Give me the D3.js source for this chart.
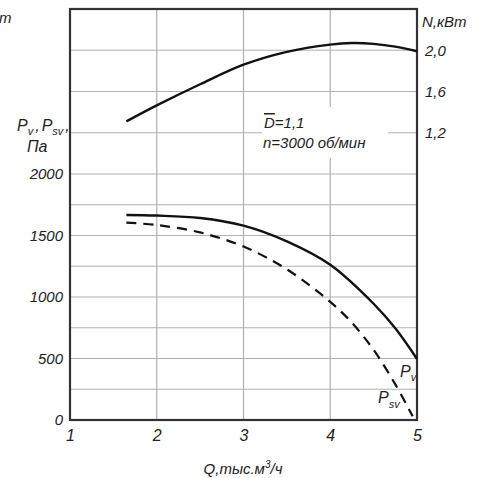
<!DOCTYPE html>
<html>
<head>
<meta charset="utf-8">
<script src="https://cdn.jsdelivr.net/npm/d3@7"></script>
<style>
  body { margin: 0; background: #fff; }
  svg text { font-family: "Liberation Sans", Arial, sans-serif; font-style: italic; fill: #222; }
</style>
</head>
<body>
<svg id="chart" width="491" height="478"></svg>
<script>
// Q, тыс. м3/ч
const qN = [1.65, 2.0, 2.5, 3.0, 3.5, 4.0, 4.25, 4.5, 4.75, 5.0]
const nValues = [1.31, 1.465, 1.67, 1.86, 1.985, 2.055, 2.07, 2.062, 2.035, 1.99]

const qPv = [1.65, 2.0, 2.5, 3.0, 3.5, 4.0, 4.5, 4.75, 5.0]
const pvValues = [1667, 1662, 1642, 1580, 1452, 1262, 945, 745, 496]

const qPsv = [1.65, 2.0, 2.5, 3.0, 3.5, 4.0, 4.25, 4.5, 4.75, 4.95]
const psvValues = [1605, 1585, 1525, 1410, 1225, 960, 790, 570, 290, 30]

const qTicks = [1, 2, 3, 4, 5]
const pTicks = [0, 500, 1000, 1500, 2000]
const pGrid = [250, 500, 750, 1000, 1250, 1500, 1750, 2000]
const nTicks = [1.2, 1.6, 2.0]

const svg = d3.select("#chart")
const mLeft = 70, mRight = 417, mTop = 9, mBottom = 420

const x = d3.scaleLinear().domain([1, 5]).range([mLeft, mRight])
const yP = d3.scaleLinear().domain([0, 2000]).range([mBottom, 174])
const yN = d3.scaleLinear().domain([0.8, 2.4]).range([174, mTop])

const grid = svg.append("g").attr("stroke", "#b0b0b0").attr("stroke-width", 1.2)

pGrid.forEach((p) => {
  grid.append("line").attr("x1", mLeft).attr("x2", mRight).attr("y1", yP(p)).attr("y2", yP(p))
})
nTicks.forEach((n) => {
  grid.append("line").attr("x1", mLeft).attr("x2", mRight).attr("y1", yN(n)).attr("y2", yN(n))
})
qTicks.slice(1, -1).forEach((q) => {
  grid.append("line").attr("x1", x(q)).attr("x2", x(q)).attr("y1", mTop).attr("y2", mBottom)
})

// white box behind the annotation
svg.append("rect")
  .attr("x", 262).attr("y", 107).attr("width", 126).attr("height", 51)
  .attr("fill", "#fff")

const ann = svg.append("g")
const t1 = ann.append("text").attr("x", 264).attr("y", 128).style("font-size", "15px")
t1.append("tspan").attr("text-decoration", "overline").text("D")
t1.append("tspan").text("=1,1")
ann.append("text").attr("x", 263).attr("y", 148).style("font-size", "15px").text("n=3000 об/мин")

// frame
svg.append("rect")
  .attr("x", mLeft).attr("y", mTop).attr("width", mRight - mLeft).attr("height", mBottom - mTop)
  .attr("fill", "none").attr("stroke", "#333").attr("stroke-width", 2.2)

// curves
const lineN = d3.line().x((d, i) => x(qN[i])).y((d) => yN(d)).curve(d3.curveCatmullRom.alpha(0.5))
const linePv = d3.line().x((d, i) => x(qPv[i])).y((d) => yP(d)).curve(d3.curveCatmullRom.alpha(0.5))
const linePsv = d3.line().x((d, i) => x(qPsv[i])).y((d) => yP(d)).curve(d3.curveCatmullRom.alpha(0.5))

svg.append("path").datum(nValues).attr("d", lineN)
  .attr("fill", "none").attr("stroke", "#111").attr("stroke-width", 2.4)
svg.append("path").datum(pvValues).attr("d", linePv)
  .attr("fill", "none").attr("stroke", "#111").attr("stroke-width", 2.4)
svg.append("path").datum(psvValues).attr("d", linePsv)
  .attr("fill", "none").attr("stroke", "#111").attr("stroke-width", 2.2)
  .attr("stroke-dasharray", "10,7")

// axes labels
const axisLeft = svg.append("g")
  .attr("transform", `translate(${mLeft - 7},0)`)
  .call(d3.axisLeft(yP).tickValues(pTicks).tickSize(0).tickPadding(0).tickFormat((d) => d))
axisLeft.select(".domain").remove()
axisLeft.selectAll("text").style("font-size", "15px").attr("fill", "#222")

const axisRight = svg.append("g")
  .attr("transform", `translate(${mRight + 8},0)`)
  .call(d3.axisRight(yN).tickValues(nTicks).tickSize(0).tickPadding(0)
    .tickFormat((d) => d3.format(".1f")(d).replace(".", ",")))
axisRight.select(".domain").remove()
axisRight.selectAll("text").style("font-size", "15px").attr("fill", "#222")

const axisBottom = svg.append("g")
  .attr("transform", `translate(0,${mBottom + 9})`)
  .call(d3.axisBottom(x).tickValues(qTicks).tickSize(0).tickPadding(0).tickFormat((d) => d))
axisBottom.select(".domain").remove()
axisBottom.selectAll("text").style("font-size", "16px").attr("fill", "#222").attr("dy", "0.75em")

// axis titles
const q = svg.append("text").attr("x", 243).attr("y", 474).attr("text-anchor", "middle").style("font-size", "15px")
q.append("tspan").text("Q,тыс.м")
q.append("tspan").attr("dy", -6).style("font-size", "10px").text("3")
q.append("tspan").attr("dy", 6).text("/ч")

svg.append("text").attr("x", 422).attr("y", 27).style("font-size", "15px").text("N,кВт")
svg.append("text").attr("x", -1).attr("y", 23).style("font-size", "15px").text("т")

const pl = svg.append("text").attr("x", 17).attr("y", 131).style("font-size", "16px")
pl.append("tspan").text("P")
pl.append("tspan").attr("dy", 4).style("font-size", "11px").text("v")
pl.append("tspan").attr("dy", -4).attr("dx", 2).text(",")
pl.append("tspan").attr("dx", 2).text("P")
pl.append("tspan").attr("dy", 4).style("font-size", "11px").text("sv")
pl.append("tspan").attr("dy", -4).attr("dx", 2).text(",")
svg.append("text").attr("x", 27).attr("y", 152).style("font-size", "16px").text("Па")

const lv = svg.append("text").attr("x", 400).attr("y", 377).style("font-size", "16px")
lv.append("tspan").text("P")
lv.append("tspan").attr("dy", 4).style("font-size", "11px").text("v")

const lsv = svg.append("text").attr("x", 378).attr("y", 403).style("font-size", "16px")
lsv.append("tspan").text("P")
lsv.append("tspan").attr("dy", 5).style("font-size", "11px").text("sv")
</script>
</body>
</html>
